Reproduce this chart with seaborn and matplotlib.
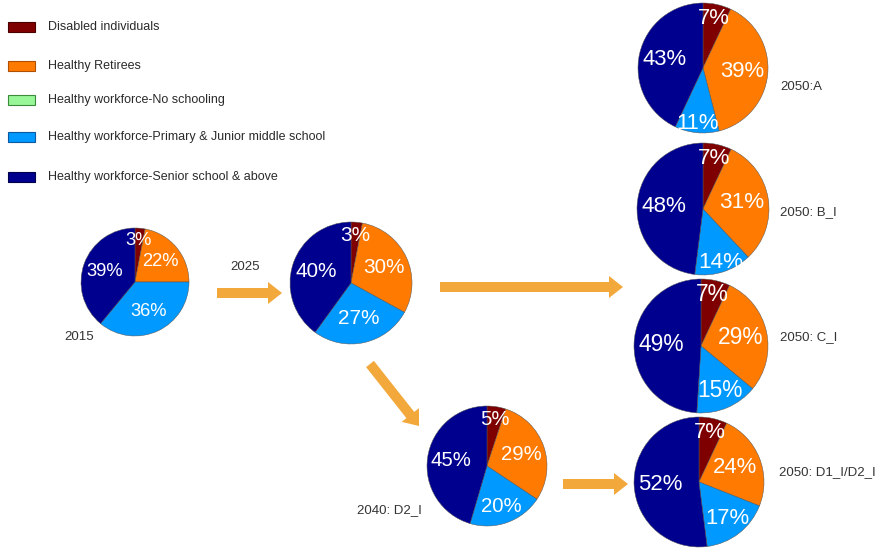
import matplotlib
matplotlib.use("Agg")
import numpy as np
import matplotlib.pyplot as plt
from matplotlib.patches import FancyArrow, Rectangle
import seaborn as sns

sns.set_theme(style="white")
plt.rcParams['font.family'] = ['Liberation Sans', 'DejaVu Sans']

# Population composition (%) by scenario
categories = [
    "Disabled individuals",
    "Healthy Retirees",
    "Healthy workforce-No schooling",
    "Healthy workforce-Primary & Junior middle school",
    "Healthy workforce-Senior school & above",
]
scenarios = ["2015", "2025", "2040: D2_I", "2050:A", "2050: B_I", "2050: C_I", "2050: D1_I/D2_I"]
disabled = [3, 3, 5, 7, 7, 7, 7]
retirees = [22, 30, 29, 39, 31, 29, 24]
no_schooling = [0, 0, 0, 0, 0, 0, 0]
primary_junior = [36, 27, 20, 11, 14, 15, 17]
senior_above = [39, 40, 45, 43, 48, 49, 52]

colors = sns.color_palette(["#7F0000", "#FF7A00", "#98F598", "#0099FF", "#00008F"])
edge_colors = ["#4a0000", "#b05000", "#3c8a3c", "#0a5aa0", "#00004a"]

W, H = 888, 549
fig = plt.figure(figsize=(W / 100, H / 100), dpi=100)
ax = fig.add_axes([0, 0, 1, 1])

# pie layout in pixel space (x, y from top, radius) and caption anchor
layout = {
    "2015": ((135, 282, 54), (64, 337)),
    "2025": ((351, 283, 61), (230, 267)),
    "2040: D2_I": ((487, 466, 60), (357, 510)),
    "2050:A": ((703, 68, 65), (780, 87)),
    "2050: B_I": ((703, 209, 66), (780, 212)),
    "2050: C_I": ((701, 346, 67), (780, 337)),
    "2050: D1_I/D2_I": ((699, 482, 65), (779, 472)),
}

series = [disabled, retirees, no_schooling, primary_junior, senior_above]


def label_distance(v):
    if v < 8:
        return 0.78
    if v <= 14:
        return 0.86
    if v <= 20:
        return 0.72
    return 0.6


for i, name in enumerate(scenarios):
    (cx, cy, r), (tx, ty) = layout[name]
    vals = [s[i] for s in series]
    keep = [k for k, v in enumerate(vals) if v > 0]
    kv = [vals[k] for k in keep]
    kc = [colors[k] for k in keep]
    center = (cx, H - cy)
    ax.pie(kv, colors=kc, startangle=90, counterclock=False, center=center,
           radius=r, wedgeprops=dict(edgecolor="#555555", linewidth=0.35))
    total = float(sum(kv))
    cum = 0.0
    fs = r * 0.245
    for v in kv:
        theta = np.deg2rad(90 - 360 * (cum + v / 2) / total)
        d = label_distance(v)
        ax.text(center[0] + d * r * np.cos(theta), center[1] + d * r * np.sin(theta),
                f"{v}%", color="white", fontsize=fs, ha="center", va="center")
        cum += v
    ax.text(tx, H - ty, name, fontsize=9.5, color="#333333", ha="left", va="center")

# legend
leg_y = [27, 66, 100, 137, 177]
for k, cat in enumerate(categories):
    ax.add_patch(Rectangle((8, H - leg_y[k] - 5), 27, 10, facecolor=colors[k],
                           edgecolor=edge_colors[k], linewidth=0.8))
    ax.text(48, H - leg_y[k], cat, fontsize=9.0, color="#2a2a2a", ha="left", va="center")

# transition arrows
arrow_color = "#F2A83A"
arrows = [
    ((217, 293), (282, 293)),
    ((440, 287), (623, 287)),
    ((370, 364), (419, 426)),
    ((563, 484), (628, 484)),
]
for (x0, y0), (x1, y1) in arrows:
    ax.add_patch(FancyArrow(x0, H - y0, x1 - x0, -(y1 - y0), width=10, head_width=22,
                            head_length=14, length_includes_head=True,
                            color=arrow_color, linewidth=0))

ax.set_xlim(0, W)
ax.set_ylim(0, H)
ax.set_aspect("equal")
ax.axis("off")
fig.savefig("out.png", dpi=100)
